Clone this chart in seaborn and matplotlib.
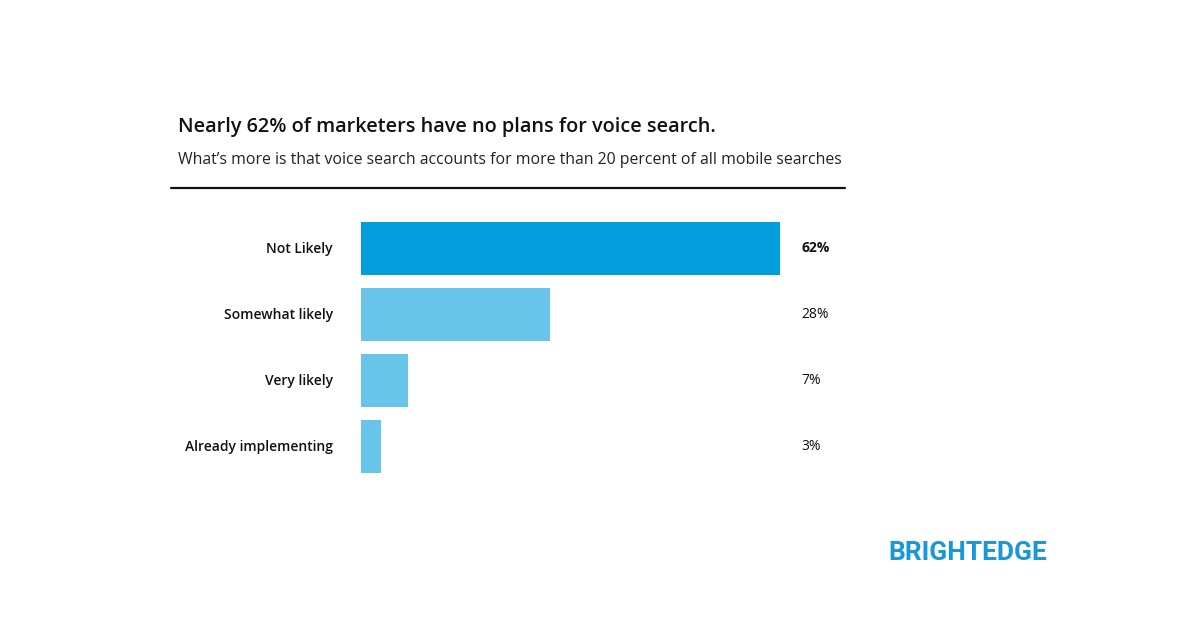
import matplotlib
matplotlib.use("Agg")
import matplotlib.pyplot as plt
import seaborn as sns
import pandas as pd

categories = ["Not Likely", "Somewhat likely", "Very likely", "Already implementing"]
values = [62, 28, 7, 3]
value_labels = ["62%", "28%", "7%", "3%"]
bar_colors = ["#039DDB", "#68C4E9", "#68C4E9", "#68C4E9"]

title = "Nearly 62% of marketers have no plans for voice search."
subtitle = "What\u2019s more is that voice search accounts for more than 20 percent of all mobile searches"
brand = "BRIGHTEDGE"

sns.set_theme(style="white")
plt.rcParams["font.family"] = ["Open Sans", "DejaVu Sans"]

df = pd.DataFrame({"category": categories, "value": values})

W, H = 1200, 628
fig = plt.figure(figsize=(W / 100, H / 100), dpi=100)
fig.patch.set_facecolor("white")

left = 361 / W
right = 780 / W
top = 1 - 215.5 / H
bottom = 1 - 479.5 / H
ax = fig.add_axes([left, bottom, right - left, top - bottom])

sns.barplot(data=df, x="value", y="category", hue="category", palette=bar_colors,
            orient="h", width=0.8, legend=False, ax=ax, saturation=1, linewidth=0)
ax.set_xlim(0, 62)
ax.set_ylim(3.5, -0.5)
for s in ax.spines.values():
    s.set_visible(False)
ax.set_xticks([])
ax.set_yticks([])
ax.set_xlabel("")
ax.set_ylabel("")

txf = ax.get_yaxis_transform()
for i, (cat, lab) in enumerate(zip(categories, value_labels)):
    ax.text(-(361 - 333) / 419, i, cat, transform=txf, ha="right", va="center",
            fontsize=10, fontweight="semibold", color="#111111")
    ax.text((801 - 361) / 419, i, lab, transform=txf, ha="left", va="center",
            fontsize=10, fontweight="bold" if i == 0 else "normal", color="#111111")

fig.text(178 / W, 1 - 127 / H, title, ha="left", va="center", fontsize=14.3,
         fontweight="semibold", color="#111111")
fig.text(178 / W, 1 - 160 / H, subtitle, ha="left", va="center", fontsize=11.45,
         color="#222222")
fig.add_artist(plt.Line2D([171 / W, 845 / W], [1 - 188 / H, 1 - 188 / H],
                          color="#111111", lw=1.6, transform=fig.transFigure))

fig.text(1047 / W, 1 - 553 / H, brand, ha="right", va="center", fontsize=19,
         fontweight="bold", color="#1A98D5", family=["Roboto", "DejaVu Sans"])

fig.savefig("out.png", dpi=100, facecolor="white")
